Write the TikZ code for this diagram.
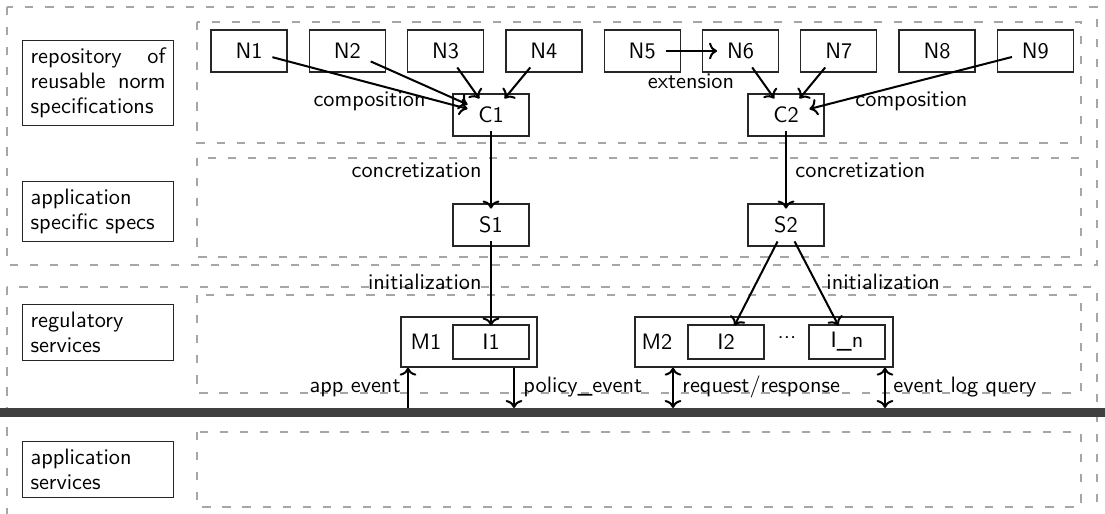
\documentclass[tikz,border=0pt]{standalone}
\usetikzlibrary{arrows.meta}
\newcommand\pxu{0.4484pt}
\tikzset{
  zone/.style={draw=black!35, line width=0.5pt, dash pattern=on 3.7pt off 5.3pt},
  frame/.style={draw=black!85, line width=0.6pt},
  cell/.style={frame, minimum width=76*\pxu, minimum height=42*\pxu, inner sep=0pt},
  smallcell/.style={frame, minimum width=76*\pxu, minimum height=34*\pxu, inner sep=0pt},
  tag/.style={minimum width=46*\pxu, minimum height=32*\pxu, inner sep=0pt},
  layer/.style={frame, text width=60.5pt, align=justify, inner sep=3.5pt,
    font=\sffamily\fontsize{10pt}{11.2pt}\selectfont,
    execute at begin node={\hyphenpenalty=10000\relax}},
  flow/.style={line width=0.9pt},
  bus/.style={draw=black!75, line width=4pt},
  lbl/.style={inner sep=0pt}
}
\begin{document}
\begin{tikzpicture}[x=\pxu, y=-\pxu, font=\sffamily]
\useasboundingbox (0,0) rectangle (1105,514);

% dashed layer zones
\draw[zone] (7,7) rectangle (1097,265);
\draw[zone] (7,287) rectangle (1097,522);
\draw[zone] (197,22) rectangle (1081,143);
\draw[zone] (197,158) rectangle (1081,257);
\draw[zone] (197,295) rectangle (1081,393);
\draw[zone] (197,432) rectangle (1081,507);

% service bus
\draw[bus] (0,412.5) -- (1105,412.5);

% layer captions
\node[layer] (L1) at (98,83) {repository of reusable norm specifications};
\node[layer] (L2) at (98,211.5) {application specific specs};
\node[layer] (L3) at (98,332.5) {regulatory services};
\node[layer] (L4) at (98,469.5) {application services};

% reusable norms
\foreach \i in {1,...,9}{
  \pgfmathsetmacro\xx{249+98.3*(\i-1)}
  \node[cell] (N\i f) at (\xx,51) {};
  \node[tag] (N\i) at (\xx,51) {N\i};
}

% compositions and specs
\node[cell] (C1f) at (491,115) {};
\node[tag] (C1) at (491,115) {C1};
\node[cell] (C2f) at (786,115) {};
\node[tag] (C2) at (786,115) {C2};
\node[cell] (S1f) at (491,225) {};
\node[tag] (S1) at (491,225) {S1};
\node[cell] (S2f) at (786,225) {};
\node[tag] (S2) at (786,225) {S2};

% monitors with instances
\node[frame, minimum width=136*\pxu, minimum height=50*\pxu] (M1) at (469,342) {};
\node[lbl] (M1t) at (426,342) {M1};
\node[smallcell] (I1f) at (491,342) {};
\node[tag] (I1) at (491,342) {I1};

\node[frame, minimum width=258*\pxu, minimum height=50*\pxu] (M2) at (764,342) {};
\node[lbl] (M2t) at (657,342) {M2};
\node[smallcell] (I2f) at (726,342) {};
\node[tag] (I2) at (726,342) {I2};
\node[lbl] (dots) at (787,340) {\raisebox{2pt}{...}};
\node[smallcell] (Inf) at (847,342) {};
\node[tag] (In) at (847,342) {I\_n};

% composition / extension / concretization / initialization
\draw[flow,->] (N1) -- (C1);
\draw[flow,->] (N2) -- (C1);
\draw[flow,->] (N3) -- (C1);
\draw[flow,->] (N4) -- (C1);
\draw[flow,->] (N5) -- (N6);
\draw[flow,->] (N6) -- (C2);
\draw[flow,->] (N7) -- (C2);
\draw[flow,->] (N9) -- (C2);
\draw[flow,->] (C1) -- (S1);
\draw[flow,->] (C2) -- (S2);
\draw[flow,->] (S1) -- (I1);
\draw[flow,->] (S2) -- (I2);
\draw[flow,->] (S2) -- (In);

% interaction with the bus
\coordinate (ae) at (408,408);
\coordinate (pe) at (514,408);
\coordinate (rr) at (673,408);
\coordinate (lq) at (885,408);
\draw[flow,->] (ae) -- (ae |- M1.south);
\draw[flow,->] (pe |- M1.south) -- (pe);
\draw[flow,<->] (rr |- M2.south) -- (rr);
\draw[flow,<->] (lq |- M2.south) -- (lq);

% edge labels
\node[lbl, anchor=base east] at (426,107) {composition};
\node[lbl, anchor=base west] at (855,107) {composition};
\node[lbl, anchor=base] at (691,89) {extension};
\node[lbl, anchor=base east] at (482,178) {concretization};
\node[lbl, anchor=base west] at (795,178) {concretization};
\node[lbl, anchor=base east] at (482,290) {initialization};
\node[lbl, anchor=base west] at (826,290) {initialization};
\node[lbl, anchor=base east] at (401,392.5) {app event};
\node[lbl, anchor=base west] at (523,392.5) {policy\_event};
\node[lbl, anchor=base west] at (682,392.5) {request/response};
\node[lbl, anchor=base west] at (893,392.5) {event log query};
\end{tikzpicture}
\end{document}
